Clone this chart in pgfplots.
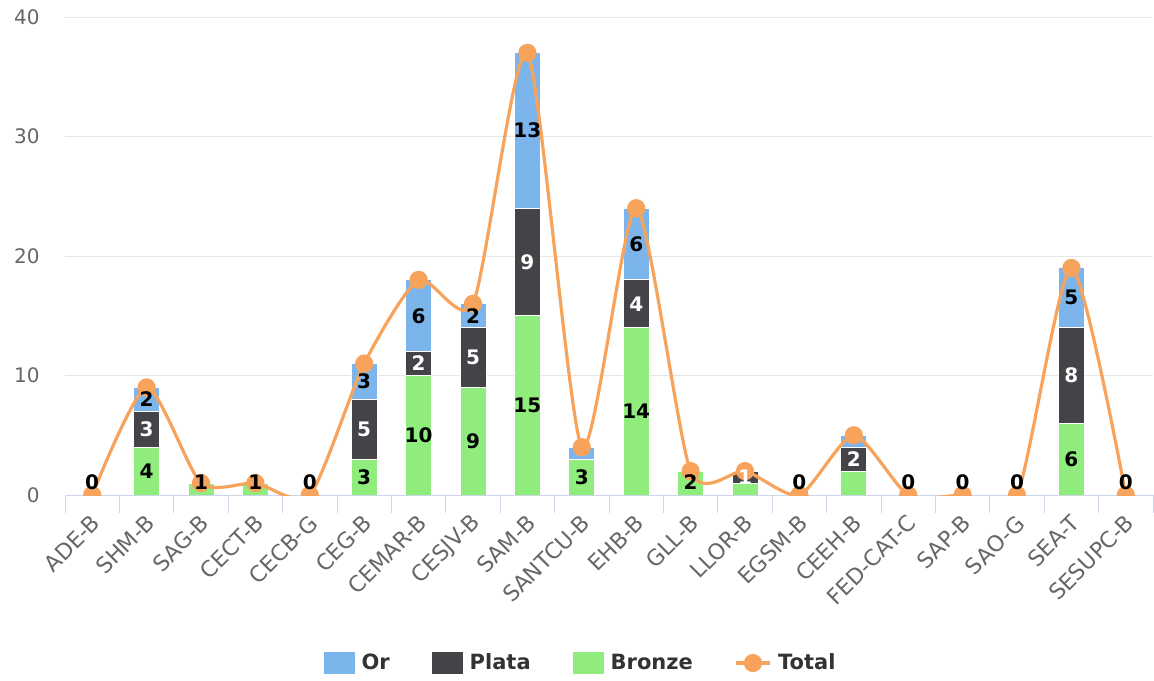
\documentclass[border=0pt]{standalone}
\usepackage{fontspec}
\setmainfont{DejaVu Sans}
\usepackage{pgfplots}
\usepackage{pgfplotstable}
\pgfplotsset{compat=1.18}

\definecolor{cOr}{HTML}{7CB5EC}
\definecolor{cPlata}{HTML}{434348}
\definecolor{cBronze}{HTML}{90ED7D}
\definecolor{cTotal}{HTML}{F7A35C}
\definecolor{cGrid}{HTML}{E6E6E6}
\definecolor{cAxis}{HTML}{CCD6EB}
\definecolor{cTick}{HTML}{666666}
\definecolor{cLeg}{HTML}{333333}

% lb/lp/lo: label shown on each segment, -1 = hidden
\pgfplotstableread{
x bronze plata or total lb lp lo
0 0 0 0 0 0 -1 -1
1 4 3 2 9 4 3 2
2 1 0 0 1 1 -1 -1
3 1 0 0 1 1 -1 -1
4 0 0 0 0 0 -1 -1
5 3 5 3 11 3 5 3
6 10 2 6 18 10 2 6
7 9 5 2 16 9 5 2
8 15 9 13 37 15 9 13
9 3 0 1 4 3 -1 -1
10 14 4 6 24 14 4 6
11 2 0 0 2 2 -1 -1
12 1 1 0 2 -1 1 -1
13 0 0 0 0 0 -1 -1
14 2 2 1 5 -1 2 -1
15 0 0 0 0 0 -1 -1
16 0 0 0 0 0 -1 -1
17 0 0 0 0 0 -1 -1
18 6 8 5 19 6 8 5
19 0 0 0 0 0 -1 -1
}\medals

\pgfplotsset{
  base/.style={width=544pt, height=239pt, scale only axis,
    xmin=-0.5, xmax=19.5, ymin=0, ymax=40,
    /pgf/number format/assume math mode=true},
  barleg/.style={legend image code/.code={\fill[##1, draw=none] (0pt,-5.5pt) rectangle (15.5pt,5.5pt);}},
  lineleg/.style={legend image code/.code={%
    \draw[mark repeat=2, mark phase=2, ##1] plot coordinates {(0pt,0pt) (8.25pt,0pt) (16.5pt,0pt)};}},
  seg/.style={draw=white, line width=0.5pt},
  lab/.style={draw=none, mark=none, forget plot, point meta=explicit,
    nodes near coords={\pgfmathfloatifflags{\pgfplotspointmeta}{2}{}{\pgfmathprintnumber{\pgfplotspointmeta}}},
    every node near coord/.style={anchor=center, inner sep=0pt,
      font=\bfseries\fontsize{10}{12}\selectfont, text=#1}},
}

\begin{document}
\begin{tikzpicture}
\begin{axis}[base, name=a,
    ybar stacked, bar width=13pt,
    axis line style={draw=none},
    xtick=\empty, ytick={0,10,20,30,40},
    ymajorgrids, grid style={cGrid, line width=0.5pt},
    major tick length=0pt,
    yticklabel style={text=cTick, font=\fontsize{10}{12}\selectfont, anchor=east, inner sep=0pt, xshift=-12.5pt},
  ]
  \addplot[seg, fill=cBronze] table[x=x, y=bronze] {\medals};
  \addplot[seg, fill=cPlata] table[x=x, y=plata] {\medals};
  \addplot[seg, fill=cOr] table[x=x, y=or] {\medals};
\end{axis}

\begin{axis}[base,
    axis x line*=bottom, axis y line=none, ytick=\empty,
    x axis line style={cAxis, line width=0.5pt, -},
    xtick={0,...,19},
    xticklabels={ADE-B,SHM-B,SAG-B,CECT-B,CECB-G,CEG-B,CEMAR-B,CESJV-B,SAM-B,SANTCU-B,EHB-B,GLL-B,LLOR-B,EGSM-B,CEEH-B,FED-CAT-C,SAP-B,SAO-G,SEA-T,SESUPC-B},
    major tick length=0pt,
    minor xtick={-0.5,0.5,...,19.5},
    minor tick length=9pt, tick align=outside,
    minor tick style={cAxis, line width=0.5pt},
    xticklabel style={xshift=2pt, yshift=-12pt, rotate=45, anchor=east, inner sep=0pt,
      text=cTick, font=\fontsize{11}{13}\selectfont},
    clip marker paths=true,
    legend columns=4,
    legend style={at={(0.4747,-0.3515)}, anchor=center, draw=none, fill=none,
      font=\bfseries\fontsize{10.5}{12}\selectfont, text=cLeg,
      /tikz/every odd column/.append style={column sep=1.5pt},
      /tikz/every even column/.append style={column sep=19pt}},
  ]
  \addlegendimage{barleg, fill=cOr}
  \addlegendentry{Or}
  \addlegendimage{barleg, fill=cPlata}
  \addlegendentry{Plata}
  \addlegendimage{barleg, fill=cBronze}
  \addlegendentry{Bronze}
  \addplot[lineleg, cTotal, line width=1.6pt, smooth, tension=0.4, mark=*, mark size=3.75pt,
    mark options={draw=none, fill=cTotal}]
    table[x=x, y=total] {\medals};
  \addlegendentry{Total}
  % segment labels, centred in each segment
  \addplot[lab=black] table[x=x, y expr={max(\thisrow{bronze}/2,1.05)}, meta=lb] {\medals};
  \addplot[lab=white] table[x=x, y expr={\thisrow{bronze}+\thisrow{plata}/2}, meta=lp] {\medals};
  \addplot[lab=black] table[x=x, y expr={\thisrow{bronze}+\thisrow{plata}+\thisrow{or}/2}, meta=lo] {\medals};
\end{axis}
\pgfresetboundingbox
\path[use as bounding box] ([shift={(-32.5pt,-92.5pt)}]a.south west) rectangle ([shift={(0.5pt,8.5pt)}]a.north east);
\end{tikzpicture}
\end{document}
